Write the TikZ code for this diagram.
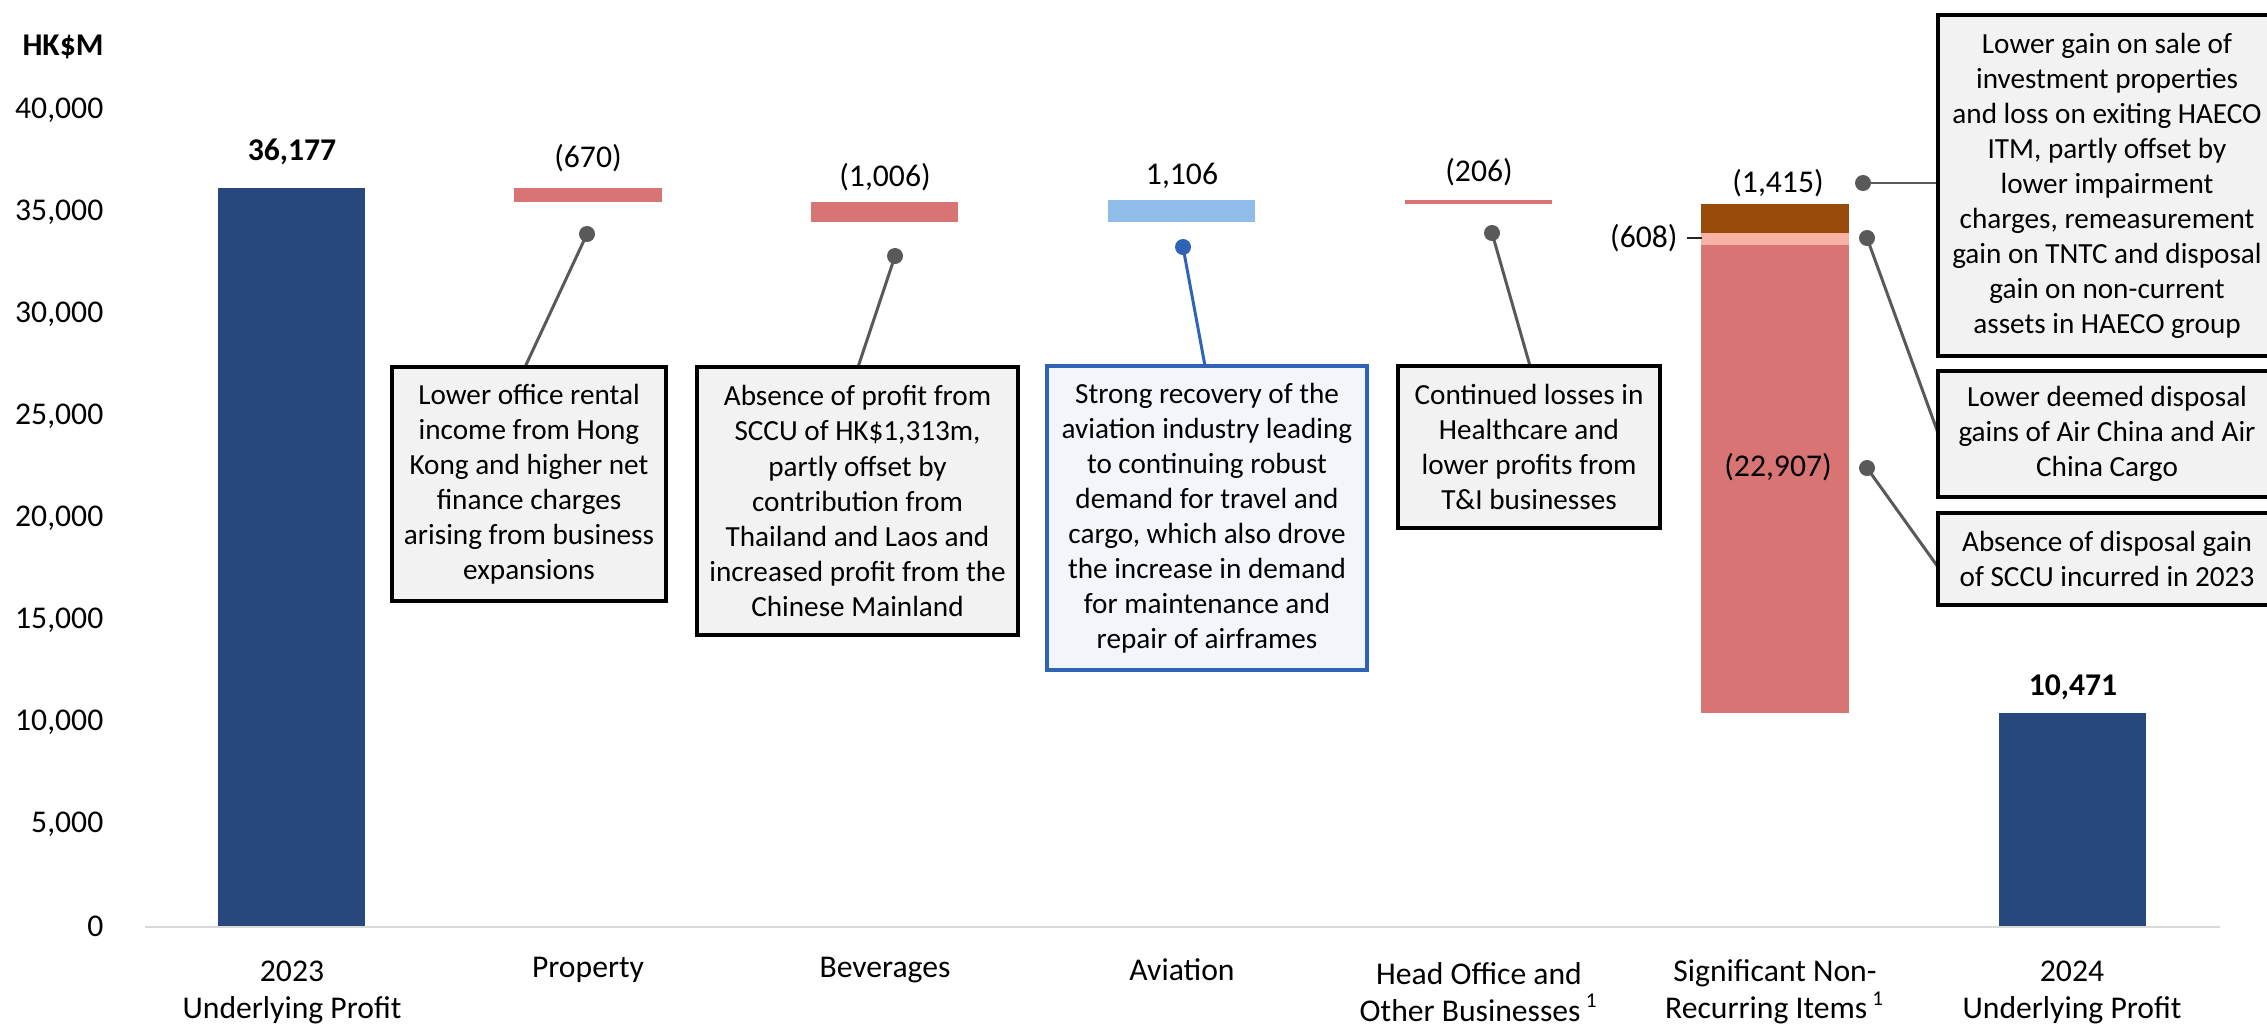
\documentclass[tikz,border=0pt]{standalone}
\usepackage{fontspec}
\setmainfont{Carlito}
\definecolor{navy}{RGB}{40,71,125}
\definecolor{lossred}{RGB}{216,116,116}
\definecolor{gainblue}{RGB}{143,188,232}
\definecolor{srbrown}{RGB}{151,74,9}
\definecolor{salmon}{RGB}{248,177,165}
\definecolor{axisgray}{RGB}{217,217,217}
\definecolor{linegray}{RGB}{89,89,89}
\definecolor{notegray}{RGB}{242,242,242}
\definecolor{avblue}{RGB}{46,99,182}
\definecolor{avfill}{RGB}{242,246,251}

\begin{document}
\begin{tikzpicture}[x=0.01cm,y=-0.01cm,
  ticklbl/.style={anchor=east,inner sep=0pt,font=\fontsize{9}{10.8}\selectfont},
  catlbl/.style={align=center,inner sep=0pt,font=\fontsize{9}{10.5}\selectfont},
  vallbl/.style={inner sep=0pt,font=\fontsize{9}{10.8}\selectfont},
  notebox/.style={draw=black,line width=1.1pt,fill=notegray,align=center,inner sep=0pt,
    font=\fontsize{8.3}{9.96}\selectfont},
  knob/.style={circle,fill=linegray,inner sep=0pt,minimum size=0.16cm},
  leader/.style={draw=linegray,line width=0.85pt}]
  \useasboundingbox (0,0) rectangle (2267,1024);
  \clip (0,0) rectangle (2267,1024);

  % y axis
  \node[font=\fontsize{9}{10.8}\selectfont\bfseries,inner sep=0pt] (unit) at (63,47) {HK\$M};
  \foreach \v/\lbl in {0/0,5/{5,000},10/{10,000},15/{15,000},20/{20,000},25/{25,000},30/{30,000},35/{35,000},40/{40,000}}
    \node[ticklbl] (t\v) at (104,{926.8-\v*20.42}) {\lbl};

  % bars
  \fill[navy] (218,926.8) rectangle (365,188.1);
  \fill[lossred] (514,188.1) rectangle (662,201.7);
  \fill[lossred] (811,201.7) rectangle (958,222.3);
  \fill[gainblue] (1108,222.3) rectangle (1255,199.7);
  \fill[lossred] (1405,199.7) rectangle (1552,203.9);
  \fill[srbrown] (1701,203.9) rectangle (1849,232.8);
  \fill[salmon] (1701,232.8) rectangle (1849,245.2);
  \fill[lossred] (1701,245.2) rectangle (1849,713.0);
  \fill[navy] (1999,713.0) rectangle (2146,926.8);
  \draw[axisgray,line width=0.8pt] (145,927) -- (2220,927);

  % values
  \node[vallbl,font=\fontsize{9}{10.8}\selectfont\bfseries] (v2023) at (292,152) {36,177};
  \node[vallbl] (vprop) at (588,158) {(670)};
  \node[vallbl] (vbev) at (885,177) {(1,006)};
  \node[vallbl] (vav) at (1182,176) {1,106};
  \node[vallbl] (vho) at (1479,172) {(206)};
  \node[vallbl] (vsnr) at (1778,183) {(1,415)};
  \node[vallbl,anchor=east,inner sep=2.5pt] (v608) at (1687,238) {(608)};
  \coordinate (s608) at (1702,238);
  \draw[black!85,line width=0.6pt] (v608.east) -- (s608);
  \node[vallbl] (vbig) at (1778,467) {(22,907)};
  \node[vallbl,font=\fontsize{9}{10.8}\selectfont\bfseries] (v2024) at (2073,687) {10,471};

  % categories
  \node[catlbl] (c2023) at (292,992) {2023\\Underlying Profit};
  \node[catlbl] (cprop) at (588,970) {Property};
  \node[catlbl] (cbev) at (885,970) {Beverages};
  \node[catlbl] (cav) at (1182,970) {Aviation};
  \node[catlbl] (cho) at (1479,992) {Head Office and\\Other Businesses\,\textsuperscript{1}};
  \node[catlbl] (csnr) at (1775,992) {Significant Non-\\Recurring Items\,\textsuperscript{1}};
  \node[catlbl] (c2024) at (2072,992) {2024\\Underlying Profit};

  % callouts
  \node[knob] (pdot) at (587,234) {};
  \node[knob] (bdot) at (895,256) {};
  \node[knob,fill=avblue] (adot) at (1183,247) {};
  \node[knob] (hdot) at (1492,233) {};
  \node[knob] (s1dot) at (1863,183) {};
  \node[knob] (s2dot) at (1867,238) {};
  \node[knob] (s3dot) at (1867,468) {};
  \coordinate (pend) at (525,367);
  \coordinate (bend) at (858,367);
  \coordinate (aend) at (1205,366);
  \coordinate (hend) at (1530,366);
  \coordinate (s1end) at (1938,183);
  \coordinate (s2end) at (1938,433);
  \coordinate (s3end) at (1938,567);
  \draw[leader] (pdot.center) -- (pend);
  \draw[leader] (bdot.center) -- (bend);
  \draw[leader,draw=avblue] (adot.center) -- (aend);
  \draw[leader] (hdot.center) -- (hend);
  \draw[leader] (s1dot.center) -- (s1end);
  \draw[leader] (s2dot.center) -- (s2end);
  \draw[leader] (s3dot.center) -- (s3end);

  \node[notebox,minimum width=2.74cm,minimum height=2.34cm] (pbox) at (529,484)
    {Lower office rental\\income from Hong\\Kong and higher net\\finance charges\\arising from business\\expansions};
  \node[notebox,minimum width=3.21cm,minimum height=2.68cm] (bbox) at (857.5,501)
    {Absence of profit from\\SCCU of HK\$1,313m,\\partly offset by\\contribution from\\Thailand and Laos and\\increased profit from the\\Chinese Mainland};
  \node[notebox,draw=avblue,fill=avfill,minimum width=3.2cm,minimum height=3.04cm] (abox) at (1207,518)
    {Strong recovery of the\\aviation industry leading\\to continuing robust\\demand for travel and\\cargo, which also drove\\the increase in demand\\for maintenance and\\repair of airframes};
  \node[notebox,minimum width=2.62cm,minimum height=1.62cm] (hbox) at (1529,447)
    {Continued losses in\\Healthcare and\\lower profits from\\T\&I businesses};
  \node[notebox,minimum width=3.38cm,minimum height=3.41cm] (s1box) at (2107,185.5)
    {Lower gain on sale of\\investment properties\\and loss on exiting HAECO\\ITM, partly offset by\\lower impairment\\charges, remeasurement\\gain on TNTC and disposal\\gain on non-current\\assets in HAECO group};
  \node[notebox,minimum width=3.38cm,minimum height=1.26cm] (s2box) at (2107,434)
    {Lower deemed disposal\\gains of Air China and Air\\China Cargo};
  \node[notebox,minimum width=3.38cm,minimum height=0.92cm] (s3box) at (2107,559)
    {Absence of disposal gain\\of SCCU incurred in 2023};
\end{tikzpicture}
\end{document}
